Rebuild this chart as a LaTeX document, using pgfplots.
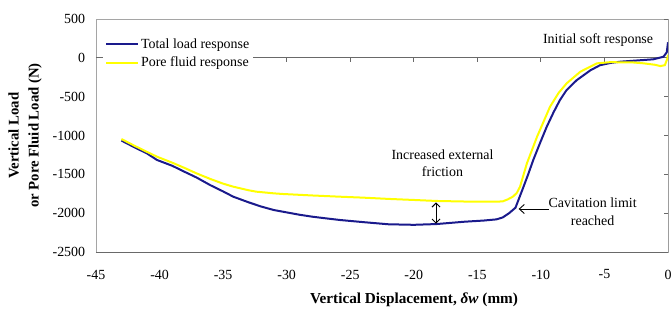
\documentclass[border=0pt]{standalone}
\usepackage{fontspec}
\setmainfont{Liberation Serif}
\usepackage{pgfplots}
\pgfplotsset{compat=1.18}
\usetikzlibrary{arrows.meta}
\definecolor{navyline}{RGB}{26,26,140}
\definecolor{yel}{RGB}{255,255,0}
\definecolor{framegray}{RGB}{165,165,165}
\definecolor{axisgray}{RGB}{105,105,105}
\begin{document}
\fontsize{14}{17}\selectfont
\begin{tikzpicture}
\begin{axis}[
  scale only axis, width=572bp, height=233bp,
  xmin=-45, xmax=0, ymin=-2500, ymax=500,
  xtick={-45,-40,-35,-30,-25,-20,-15,-10,-5,0},
  ytick={-2500,-2000,-1500,-1000,-500,0,500},
  xticklabels={-45,-40,-35,-30,-25,-20,-15,-10,-5,0},
  yticklabels={-2500,-2000,-1500,-1000,-500,0,500},
  major tick length=0pt,
  axis line style={framegray, line width=0.8bp},
  tick label style={font=\fontsize{14}{17}\selectfont},
  yticklabel style={xshift=-6bp},
  xticklabel style={yshift=-13bp},
  xlabel={Vertical Displacement, \textit{δw} (mm)},
  ylabel={Vertical Load\\or Pore Fluid Load (N)},
  xlabel style={at={(axis description cs:0.556,0)}, anchor=center, yshift=-48bp, font=\bfseries\fontsize{15.3}{17}\selectfont},
  ylabel style={at={(axis description cs:-0.124,0.5)}, anchor=center, align=center, font=\bfseries\fontsize{14.8}{20}\selectfont},
  legend style={at={(axis description cs:0.012,0.935)}, anchor=north west, draw=none, fill=white, font=\fontsize{14}{17}\selectfont, row sep=3bp, inner sep=2bp},
  legend cell align=left,
  legend image code/.code={\draw[#1] (0bp,0bp) -- (32bp,0bp);},
]
\coordinate (bl) at (rel axis cs:0,0);
\coordinate (tr) at (rel axis cs:1,1);
\draw[axisgray, line width=0.8bp] (axis cs:-45,0) -- (axis cs:0,0);
\draw[axisgray, line width=0.8bp] (axis cs:-45,-2500) -- (axis cs:0,-2500);
\draw[axisgray, line width=0.8bp] (axis cs:0,-2500) -- (axis cs:0,500);
\draw[axisgray, line width=0.8bp]
  (axis cs:-40,0) -- ([yshift=-4bp]axis cs:-40,0)
  (axis cs:-35,0) -- ([yshift=-4bp]axis cs:-35,0)
  (axis cs:-30,0) -- ([yshift=-4bp]axis cs:-30,0)
  (axis cs:-25,0) -- ([yshift=-4bp]axis cs:-25,0)
  (axis cs:-20,0) -- ([yshift=-4bp]axis cs:-20,0)
  (axis cs:-15,0) -- ([yshift=-4bp]axis cs:-15,0)
  (axis cs:-10,0) -- ([yshift=-4bp]axis cs:-10,0)
  (axis cs:-5,0) -- ([yshift=-4bp]axis cs:-5,0)
  (axis cs:0,500) -- ([xshift=-4bp]axis cs:0,500)
  (axis cs:0,-500) -- ([xshift=-4bp]axis cs:0,-500)
  (axis cs:0,-1000) -- ([xshift=-4bp]axis cs:0,-1000)
  (axis cs:0,-1500) -- ([xshift=-4bp]axis cs:0,-1500)
  (axis cs:0,-2000) -- ([xshift=-4bp]axis cs:0,-2000);
\addplot[navyline, line width=2bp] coordinates {
(-43,-1065) (-42,-1150) (-41,-1230) (-40.2,-1315) (-39,-1390) (-38,-1470)
(-37.1,-1540) (-36,-1640) (-35,-1720) (-34.2,-1788) (-33,-1860) (-32,-1915)
(-31,-1960) (-30.3,-1981) (-29,-2020) (-28,-2045) (-27,-2065) (-25.8,-2088)
(-24,-2115) (-22,-2143) (-20,-2150) (-18.2,-2140) (-16,-2110) (-14.5,-2095)
(-13.5,-2080) (-13.0,-2055) (-12.5,-2000) (-12.0,-1930) (-11.46,-1700)
(-11.0,-1500) (-10.6,-1315) (-10.0,-1070) (-9.54,-887) (-9.0,-700) (-8.5,-543)
(-8.0,-420) (-7.2,-290) (-6.1,-160) (-5.35,-95) (-4.5,-65) (-3.77,-50)
(-2.7,-37) (-1.15,-19) (-0.36,14) (-0.1,70) (0,200)
};
\addlegendentry{Total load response}
\addplot[yel, line width=2bp] coordinates {
(-43,-1045) (-42,-1130) (-41,-1210) (-40.2,-1273) (-39,-1350) (-38,-1420)
(-37.1,-1487) (-36,-1560) (-35,-1620) (-34.2,-1659) (-33,-1705) (-32.4,-1723)
(-31,-1745) (-30.3,-1753) (-28,-1772) (-25.8,-1788) (-24,-1800) (-21.9,-1817)
(-20,-1830) (-18.2,-1843) (-16,-1850) (-13.5,-1852) (-13.0,-1848) (-12.6,-1822)
(-12.2,-1787) (-11.9,-1740) (-11.64,-1659) (-11.1,-1358) (-10.3,-1015)
(-9.28,-629) (-8.6,-450) (-7.97,-328) (-6.9,-179) (-5.6,-71) (-4.5,-55)
(-3.77,-58) (-2.7,-60) (-1.9,-71) (-1.0,-90) (-0.6,-106) (-0.25,-95)
(-0.05,-10) (0,40)
};
\addlegendentry{Pore fluid response}
\node at (axis cs:-5.5,229) {Initial soft response};
\node[align=center, font=\fontsize{14}{17.7}\selectfont] at (axis cs:-17.74,-1355) {Increased external\\friction};
\node[align=center, font=\fontsize{14}{17.7}\selectfont] at (axis cs:-5.93,-1985) {Cavitation limit\\reached};
\draw[-{Straight Barb[length=5bp,width=9bp]}, line width=0.9bp] (axis cs:-9.4,-1946) -- (axis cs:-11.75,-1946);
\draw[{Straight Barb[length=4bp,width=8bp]}-{Straight Barb[length=4bp,width=8bp]}, line width=0.9bp] (axis cs:-18.25,-1862) -- (axis cs:-18.25,-2135);
\end{axis}
\pgfresetboundingbox
\path ([shift={(-96bp,-57bp)}]bl) rectangle ([shift={(4bp,19bp)}]tr);
\end{tikzpicture}
\end{document}
